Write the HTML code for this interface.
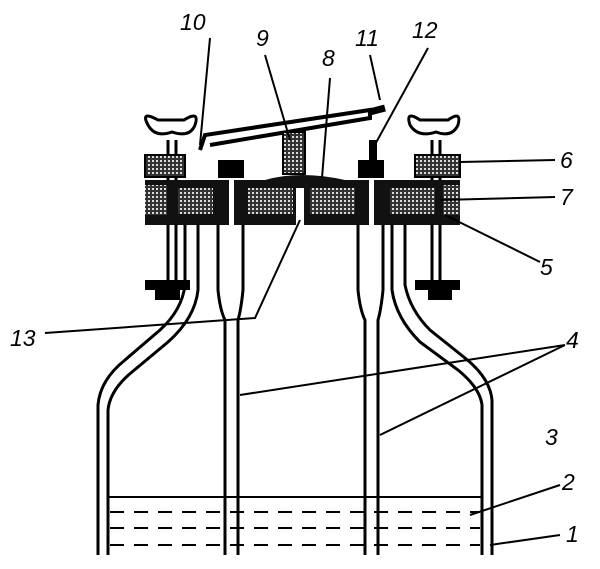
<!DOCTYPE html>
<html><head><style>
body{margin:0;background:#fff}
svg text{font-family:"Liberation Sans",sans-serif;font-style:italic;font-size:23px;fill:#000}
</style></head><body>
<svg width="600" height="564" viewBox="0 0 600 564" xmlns="http://www.w3.org/2000/svg">
<defs>
<pattern id="h" width="4" height="4" patternUnits="userSpaceOnUse">
<rect width="4" height="4" fill="#333"/><rect width="2" height="2" fill="#ddd"/></pattern>
</defs>
<g fill="none" stroke="#000" stroke-width="3">
<path d="M98 555 L98 405 Q100 380 125 360 L160 330 Q182 310 185 285 L185 225"/>
<path d="M108 555 L108 410 Q110 390 132 372 L168 342 Q195 318 198 290 L198 225"/>
<path d="M492 555 L492 400 Q490 378 465 358 L430 330 Q410 310 405 285 L405 225"/>
<path d="M482 555 L482 405 Q480 388 458 370 L420 342 Q396 318 392 290 L392 225"/>
<path d="M218 225 L218 290 Q220 310 225 320 L225 555"/>
<path d="M243 225 L243 290 Q241 310 238 320 L238 555"/>
<path d="M358 225 L358 290 Q360 310 365 320 L365 555"/>
<path d="M383 225 L383 290 Q381 310 378 320 L378 555"/>
<path d="M200 150 L205 135 L370 110 L370 118 L210 145" stroke-width="4"/>
<path d="M370 112 L385 108" stroke-width="7"/>
<path d="M168 140 L168 285 M176 140 L176 285 M432 140 L432 285 M440 140 L440 285"/>
<path d="M158 120 Q140 110 148 125 Q155 138 172 132 Q190 138 195 125 Q200 110 184 120 Z"/>
<path d="M420 120 Q405 110 410 125 Q418 138 436 132 Q452 138 458 125 Q462 110 448 120 Z"/>
</g>
<path d="M145 280 L190 280 L190 290 L180 290 L180 300 L155 300 L155 290 L145 290 Z" fill="#000"/>
<path d="M415 280 L460 280 L460 290 L452 290 L452 300 L428 300 L428 290 L415 290 Z" fill="#000"/>
<!-- lid -->
<path d="M145 180 L265 180 Q300 170 345 180 L460 180 L460 225 L145 225 Z" fill="#111"/>
<rect x="145" y="155" width="40" height="22" fill="url(#h)" stroke="#000" stroke-width="2"/>
<rect x="145" y="185" width="22" height="30" fill="url(#h)"/>
<rect x="178" y="188" width="35" height="26" fill="url(#h)"/>
<rect x="415" y="155" width="45" height="22" fill="url(#h)" stroke="#000" stroke-width="2"/>
<rect x="443" y="185" width="17" height="30" fill="url(#h)"/>
<rect x="390" y="188" width="45" height="26" fill="url(#h)"/>
<rect x="248" y="188" width="45" height="26" fill="url(#h)"/>
<rect x="310" y="188" width="45" height="26" fill="url(#h)"/>
<rect x="296" y="188" width="8" height="37" fill="#fff"/>
<rect x="220" y="225" width="21" height="60" fill="#fff"/>
<rect x="360" y="225" width="21" height="60" fill="#fff"/>
<rect x="229" y="175" width="5" height="60" fill="#fff"/>
<rect x="369" y="175" width="5" height="60" fill="#fff"/>
<rect x="283" y="132" width="22" height="42" fill="url(#h)" stroke="#000" stroke-width="2"/>
<rect x="218" y="160" width="26" height="18" fill="#000"/>
<rect x="358" y="160" width="26" height="18" fill="#000"/>
<rect x="369" y="140" width="8" height="20" fill="#000"/>
<g stroke="#000" stroke-width="2" fill="none">
<line x1="108" y1="497" x2="482" y2="497"/>
<line x1="110" y1="512" x2="480" y2="512" stroke-dasharray="14 10"/>
<line x1="110" y1="528" x2="480" y2="528" stroke-dasharray="14 10"/>
<line x1="110" y1="545" x2="480" y2="545" stroke-dasharray="14 10"/>
<path d="M210 38 L200 145 M265 55 L290 140 M330 78 L322 178 M370 55 L380 100 M428 48 L372 150"/>
<path d="M555 160 L460 162 M555 197 L440 200 M540 262 L445 215"/>
<path d="M45 333 L255 318 L300 220"/>
<path d="M565 345 L240 395 M565 345 L380 435"/>
<path d="M560 485 L470 515 M560 535 L490 545"/>
</g>
<text x="180" y="30">10</text><text x="256" y="46">9</text><text x="322" y="66">8</text>
<text x="355" y="46">11</text><text x="412" y="38">12</text>
<text x="560" y="168">6</text><text x="560" y="205">7</text><text x="540" y="275">5</text>
<text x="10" y="346">13</text><text x="566" y="348">4</text><text x="545" y="445">3</text>
<text x="562" y="490">2</text><text x="566" y="542">1</text>
</svg>
</body></html>
